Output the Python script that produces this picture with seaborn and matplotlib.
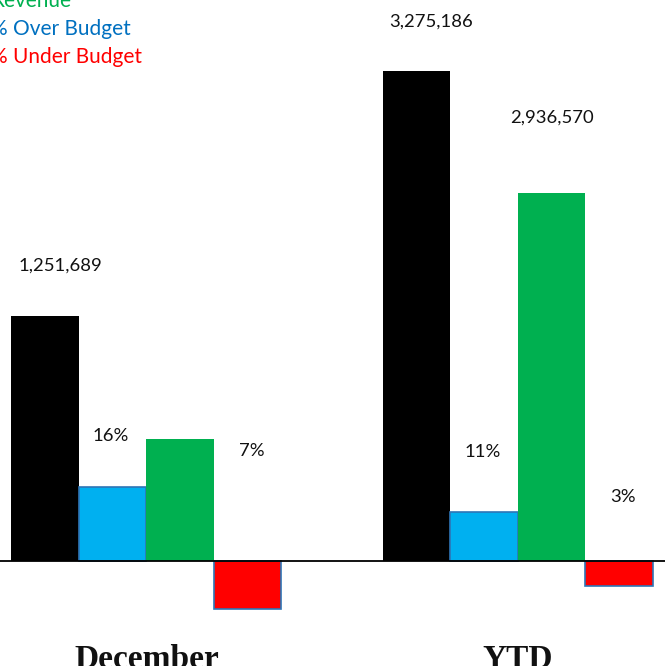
import numpy as np
import pandas as pd
import matplotlib.pyplot as plt
import seaborn as sns

# values (bar heights in chart units, labels as printed)
periods = ["December", "YTD"]
series = ["Budget", "% Over Budget", "Revenue", "% Under Budget"]
dec_heights = [245, 74, 122, -48]
ytd_heights = [490, 49, 368, -25]
dec_labels = ["1,251,689", "16%", "", "7%"]
ytd_labels = ["3,275,186", "11%", "2,936,570", "3%"]

bar_colors = ["#000000", "#00B0F0", "#00B050", "#FF0000"]
legend_names = ["Revenue", "% Over Budget", "% Under Budget"]
legend_colors = ["#00B050", "#0070C0", "#FF0000"]

df = pd.DataFrame({
    "period": np.repeat(periods, len(series)),
    "series": series * len(periods),
    "height": dec_heights + ytd_heights,
})

sns.set_style("white")
plt.rcParams["font.family"] = ["Lato", "DejaVu Sans"]

fig = plt.figure(figsize=(6.65, 6.66), dpi=100)
# axes spans full width; bottom leaves room for category labels
ax = fig.add_axes([0, 40 / 666, 1, 626 / 666])

sns.barplot(data=df, x="period", y="height", hue="series", hue_order=series,
            order=periods, palette=bar_colors, saturation=1, width=0.727,
            legend=False, ax=ax)

# outlines on the percentage bars
for patch in ax.patches:
    fc = patch.get_facecolor()
    if fc[0] > 0.9 or (fc[2] > 0.9 and fc[0] < 0.1):
        patch.set_edgecolor("#2E75B6")
        patch.set_linewidth(1.2)
    else:
        patch.set_edgecolor("none")

ax.set_xlim(-0.394, 1.396)
ax.set_ylim(-65, 561)
ax.axhline(0, color="black", lw=1.3, zorder=5)

for s in ax.spines.values():
    s.set_visible(False)
ax.set_yticks([])
ax.set_xlabel("")
ax.set_ylabel("")
ax.tick_params(axis="x", length=0, pad=13)
ax.set_xticklabels(periods, fontfamily="Liberation Serif", fontweight="bold",
                   fontsize=24, color="#111111")

# value labels, offsets hand placed like the original
label_dx = [0.04, -0.005, 0.0, 0.01]
label_dy = [50, 51, 0, 110]
label_dy_ytd = [49, 60, 75, 64]
width = 0.727 / len(series)
for gi, (heights, labels, dys) in enumerate(
        [(dec_heights, dec_labels, label_dy), (ytd_heights, ytd_labels, label_dy_ytd)]):
    for si, (h, lab) in enumerate(zip(heights, labels)):
        if not lab:
            continue
        x = gi - 0.727 / 2 + width * (si + 0.5) + label_dx[si]
        y = max(h, 0) + dys[si]
        ax.text(x, y, lab, ha="center", va="center", fontsize=13.3, color="#111111")

# legend entries (partly cut off at the left edge as in the original)
for i, (name, col) in enumerate(zip(legend_names, legend_colors)):
    fig.text(-0.014, 1 - (1 + 28 * i) / 666, name, ha="left", va="center",
             fontsize=15, color=col)

fig.savefig("out.png", dpi=100)
